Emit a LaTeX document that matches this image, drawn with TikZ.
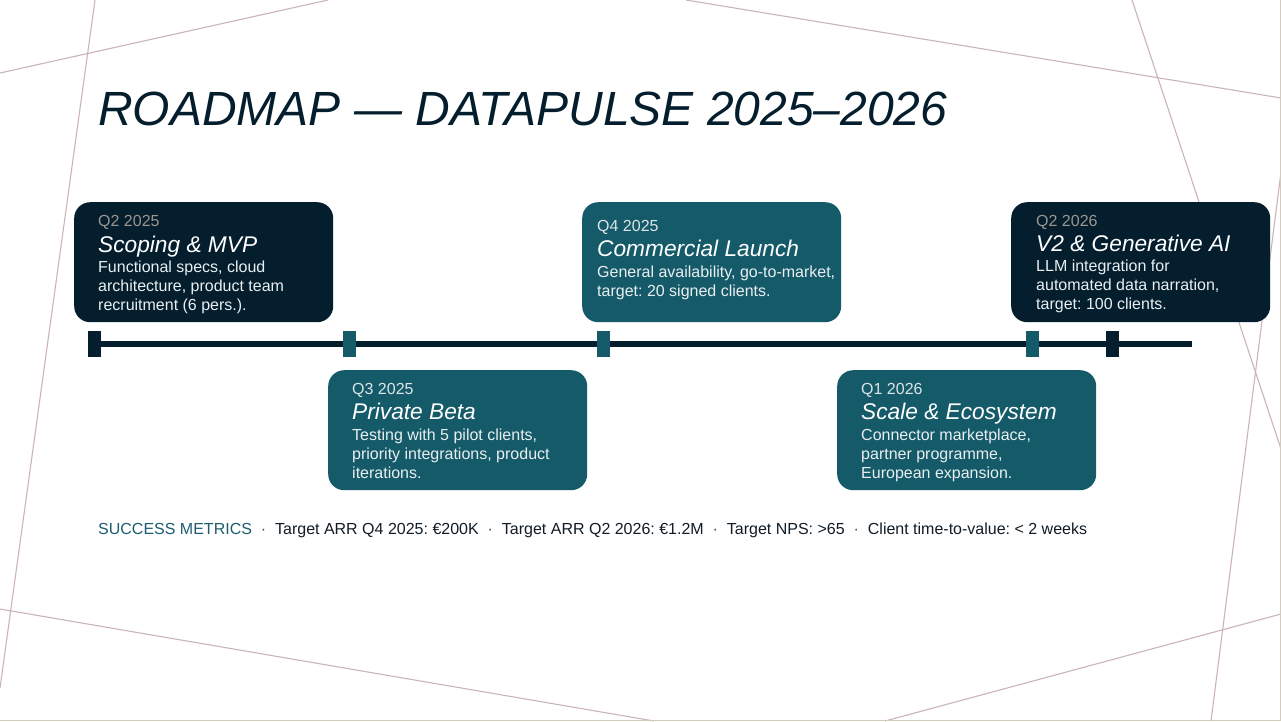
\documentclass[tikz,border=0pt]{standalone}
\usepackage{fontspec}
\setmainfont{Liberation Sans}
\frenchspacing
\definecolor{navy}{HTML}{041E2E}
\definecolor{tealc}{HTML}{155A68}
\definecolor{bgline}{HTML}{CBB4B9}
\definecolor{border}{HTML}{D2CABE}
\definecolor{labdark}{HTML}{9C968F}
\definecolor{labteal}{HTML}{DCE5E8}
\definecolor{bodytxt}{HTML}{E9EFF1}
\definecolor{foottxt}{HTML}{101C26}
\definecolor{footlab}{HTML}{1E5C70}
\definecolor{footdot}{HTML}{3E4A54}
\begin{document}
\begin{tikzpicture}[x=1pt,y=-1pt,
  bg/.style={draw=bgline, line width=1.1pt},
  edge/.style={draw=border, line width=1.3pt},
  card/.style={rounded corners=16pt, minimum width=259pt, minimum height=120pt, inner sep=0pt, anchor=north west},
  darkcard/.style={card, fill=navy},
  tealcard/.style={card, fill=tealc},
  lab/.style={anchor=base west, inner sep=0pt, font=\fontsize{16}{19}\selectfont},
  ttl/.style={anchor=base west, inner sep=0pt, font=\fontsize{22.7}{26}\selectfont\itshape, text=white},
  body/.style={anchor=base west, inner sep=0pt, font=\fontsize{16}{19}\selectfont, text=bodytxt},
  msq/.style={minimum width=13pt, minimum height=26pt, inner sep=0pt, draw=none}
]
\useasboundingbox (0,0) rectangle (1281,721);
\fill[white] (0,0) rectangle (1281,721);

% background lines
\draw[bg] (95,0) -- (0,688);
\draw[bg] (0,73) -- (328,0);
\draw[bg] (686,0) -- (1281,98);
\draw[bg] (1132,0) -- (1281,449);
\draw[bg] (1281,172) -- (1211,721);
\draw[bg] (0,609) -- (654,721);
\draw[bg] (1281,614) -- (885,721);
\draw[edge] (1280.3,0) -- (1280.3,721);
\draw[edge] (0,720.3) -- (1281,720.3);

% title
\node[anchor=base west, inner sep=0pt, text=navy, font=\fontsize{48}{56}\selectfont\itshape] (title) at (98,125) {ROADMAP — DATAPULSE 2025–2026};

% timeline
\coordinate (b0) at (88,344);
\coordinate (b1) at (1192,344);
\draw[line width=6pt, navy] (b0) -- (b1);
\node[msq, fill=navy] (m1) at (94.5,344) {};
\node[msq, fill=tealc] (m2) at (349,344) {};
\node[msq, fill=tealc] (m3) at (603.5,344) {};
\node[msq, fill=tealc] (m4) at (1032.5,344) {};
\node[msq, fill=navy] (m5) at (1112.5,344) {};

% card 1
\node[darkcard] (c1) at (74,202) {};
\node[lab, text=labdark] (c1q) at (98,226) {Q2 2025};
\node[ttl] (c1t) at (98,252) {Scoping \& MVP};
\node[body] (c1a) at (98,272) {Functional specs, cloud};
\node[body] (c1b) at (98,291) {architecture, product team};
\node[body] (c1c) at (98,310) {recruitment (6 pers.).};

% card 2
\node[tealcard] (c2) at (328,370) {};
\node[lab, text=labteal] (c2q) at (352,394) {Q3 2025};
\node[ttl] (c2t) at (352,419) {Private Beta};
\node[body] (c2a) at (352,440) {Testing with 5 pilot clients,};
\node[body] (c2b) at (352,459) {priority integrations, product};
\node[body] (c2c) at (352,478) {iterations.};

% card 3
\node[tealcard] (c3) at (582,202) {};
\node[lab, text=labteal] (c3q) at (597,231) {Q4 2025};
\node[ttl] (c3t) at (597,256) {Commercial Launch};
\node[body] (c3a) at (597,277) {General availability, go-to-market,};
\node[body] (c3b) at (597,296) {target: 20 signed clients.};

% card 4
\node[tealcard] (c4) at (837,370) {};
\node[lab, text=labteal] (c4q) at (861,394) {Q1 2026};
\node[ttl] (c4t) at (861,419) {Scale \& Ecosystem};
\node[body] (c4a) at (861,440) {Connector marketplace,};
\node[body] (c4b) at (861,459) {partner programme,};
\node[body] (c4c) at (861,478) {European expansion.};

% card 5
\node[darkcard] (c5) at (1011,202) {};
\node[lab, text=labdark] (c5q) at (1036,226) {Q2 2026};
\node[ttl] (c5t) at (1036,251) {V2 \& Generative AI};
\node[body] (c5a) at (1036,271) {LLM integration for};
\node[body] (c5b) at (1036,290) {automated data narration,};
\node[body] (c5c) at (1036,309) {target: 100 clients.};

% footer
\node[anchor=base west, inner sep=0pt, text=foottxt, font=\fontsize{16}{19}\selectfont] (foot) at (98,534)
 {\textcolor{footlab}{SUCCESS METRICS}\hspace{8.9pt}\textcolor{footdot}{·}\hspace{8.9pt}Target ARR Q4 2025: €200K\hspace{8.9pt}\textcolor{footdot}{·}\hspace{8.9pt}Target ARR Q2 2026: €1.2M\hspace{8.9pt}\textcolor{footdot}{·}\hspace{8.9pt}Target NPS: >65\hspace{8.9pt}\textcolor{footdot}{·}\hspace{8.9pt}Client time-to-value: < 2 weeks};
\end{tikzpicture}
\end{document}
